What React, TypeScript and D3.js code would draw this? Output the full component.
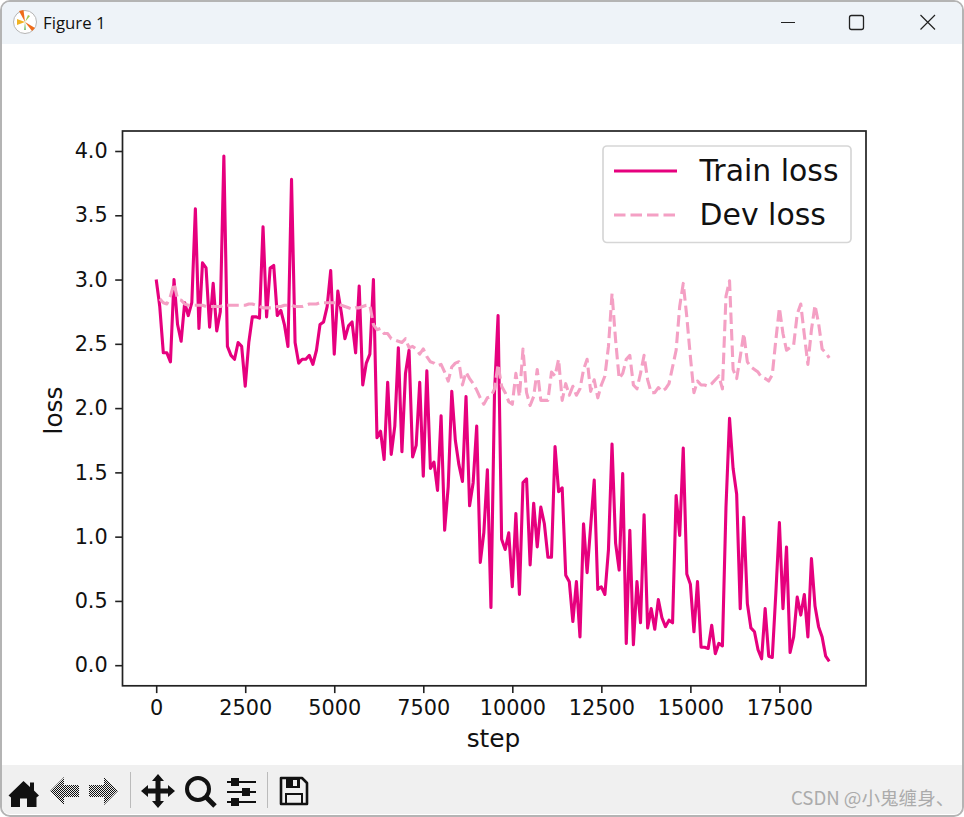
import * as d3 from 'd3';
import React, { useEffect, useRef } from 'react';

// one reading every 100 steps
const trainSteps = d3.range(0, 19000, 100);
// dev loss has no reading at step 0
const devSteps = d3.range(100, 19000, 100);

const trainLoss = [
  3.0, 2.79, 2.43, 2.43, 2.36, 3.0, 2.65, 2.52, 2.82, 2.72,
  2.82, 3.55, 2.62, 3.13, 3.09, 2.63, 2.97, 2.6, 2.75, 3.96,
  2.48, 2.41, 2.38, 2.51, 2.48, 2.17, 2.51, 2.71, 2.71, 2.7,
  3.41, 2.71, 3.09, 3.11, 2.72, 2.76, 2.65, 2.48, 3.78, 2.51,
  2.35, 2.38, 2.38, 2.41, 2.34, 2.45, 2.65, 2.67, 2.79, 3.07,
  2.42, 2.91, 2.74, 2.54, 2.64, 2.67, 2.43, 2.95, 2.18, 2.35,
  2.42, 3.0, 1.77, 1.82, 1.6, 2.2, 1.64, 1.86, 2.47, 1.66,
  2.27, 2.45, 1.62, 1.71, 2.2, 1.47, 2.29, 1.53, 1.58, 1.36,
  1.94, 1.05, 1.39, 2.13, 1.75, 1.56, 1.43, 2.09, 1.24, 1.42,
  1.86, 0.8, 1.03, 1.52, 0.45, 2.12, 2.72, 0.98, 0.9, 1.03,
  0.61, 1.18, 0.55, 1.42, 1.45, 0.78, 1.26, 0.92, 1.23, 1.1,
  0.84, 0.84, 1.7, 1.35, 1.38, 0.7, 0.65, 0.34, 0.65, 0.22,
  1.1, 0.72, 1.08, 1.44, 0.59, 0.61, 0.55, 0.9, 1.72, 0.95,
  0.74, 1.49, 0.17, 1.05, 0.16, 0.65, 0.33, 1.17, 0.29, 0.44,
  0.28, 0.51, 0.37, 0.3, 0.35, 0.33, 1.32, 1.01, 1.69, 0.71,
  0.63, 0.26, 0.65, 0.14, 0.14, 0.13, 0.31, 0.09, 0.17, 0.15,
  1.23, 1.92, 1.53, 1.33, 0.44, 1.15, 0.48, 0.29, 0.26, 0.12,
  0.05, 0.44, 0.07, 0.06, 0.56, 1.11, 0.44, 0.92, 0.1, 0.22,
  0.53, 0.39, 0.55, 0.22, 0.83, 0.46, 0.3, 0.22, 0.07, 0.03,
];

const devLoss = [
  2.85, 2.82, 2.81, 2.87, 2.97, 2.85, 2.84, 2.81, 2.8,
  2.8, 2.8, 2.8, 2.8, 2.79, 2.79, 2.79, 2.79, 2.79, 2.8,
  2.8, 2.8, 2.8, 2.8, 2.8, 2.8, 2.81, 2.81, 2.8, 2.79,
  2.78, 2.78, 2.78, 2.78, 2.79, 2.79, 2.8, 2.8, 2.8, 2.79,
  2.79, 2.79, 2.8, 2.81, 2.81, 2.81, 2.82, 2.82, 2.82, 2.82,
  2.82, 2.82, 2.8, 2.79, 2.78, 2.77, 2.78, 2.78, 2.79, 2.8,
  2.8, 2.65, 2.61, 2.62, 2.58, 2.58, 2.54, 2.53, 2.52, 2.51,
  2.54, 2.47, 2.48, 2.46, 2.42, 2.46, 2.4, 2.36, 2.35, 2.33,
  2.34, 2.28, 2.21, 2.32, 2.35, 2.36, 2.18, 2.28, 2.23, 2.19,
  2.14, 2.08, 2.03, 2.08, 2.09, 2.15, 2.34, 2.17, 2.12, 2.05,
  2.03, 2.27, 2.09, 2.46, 2.12, 2.02, 2.09, 2.3, 2.06, 2.06,
  2.06, 2.28, 2.25, 2.38, 2.06, 2.19, 2.1, 2.17, 2.1, 2.15,
  2.3, 2.38, 2.13, 2.22, 2.08, 2.18, 2.25, 2.48, 2.89, 2.53,
  2.23, 2.27, 2.38, 2.41, 2.18, 2.15, 2.27, 2.41, 2.22, 2.12,
  2.12, 2.16, 2.13, 2.15, 2.19, 2.32, 2.45, 2.79, 2.97, 2.71,
  2.4, 2.12, 2.21, 2.18, 2.18, 2.17, 2.19, 2.22, 2.25, 2.15,
  2.87, 2.99, 2.3, 2.23, 2.4, 2.58, 2.36, 2.32, 2.3, 2.28,
  2.24, 2.23, 2.21, 2.26, 2.53, 2.78, 2.58, 2.45, 2.47, 2.49,
  2.73, 2.81, 2.57, 2.34, 2.61, 2.8, 2.66, 2.46, 2.43, 2.39,
];

const xTicks = [0, 2500, 5000, 7500, 10000, 12500, 15000, 17500];
const yTicks = [0, 0.5, 1, 1.5, 2, 2.5, 3, 3.5, 4];
const legendLabels = ['Train loss', 'Dev loss'];

const TRAIN_COLOR = '#e6007e';
const DEV_COLOR = '#f4a0c4';
const FONT = '"DejaVu Sans", sans-serif';

const box = { left: 122.5, right: 866, top: 131, bottom: 685.8 };

const App: React.FC = () => {
  const svgRef = useRef<SVGSVGElement | null>(null);

  useEffect(() => {
    if (!svgRef.current) return;
    const svg = d3.select(svgRef.current).select<SVGGElement>('g.chart');
    svg.selectAll('*').remove();

    const x = d3.scaleLinear().domain([0, 17500]).range([156.2, 779.4]);
    const y = d3.scaleLinear().domain([0, 4]).range([665.2, 151]);

    const line = (stepValues: number[]) =>
      d3
        .line<number>()
        .x((_, i) => x(stepValues[i]))
        .y((d) => y(d));

    svg
      .append('path')
      .attr('d', line(trainSteps)(trainLoss))
      .attr('fill', 'none')
      .attr('stroke', TRAIN_COLOR)
      .attr('stroke-width', 3.1)
      .attr('stroke-linejoin', 'round');

    svg
      .append('path')
      .attr('d', line(devSteps)(devLoss))
      .attr('fill', 'none')
      .attr('stroke', DEV_COLOR)
      .attr('stroke-width', 3.1)
      .attr('stroke-dasharray', '11.5 5')
      .attr('stroke-linejoin', 'round');

    // X-axis
    const gx = svg
      .append('g')
      .attr('transform', `translate(0, ${box.bottom})`)
      .call(d3.axisBottom(x).tickValues(xTicks).tickFormat(d3.format('d')).tickSize(7.3).tickPadding(7));

    // Y-axis
    const gy = svg
      .append('g')
      .attr('transform', `translate(${box.left}, 0)`)
      .call(d3.axisLeft(y).tickValues(yTicks).tickFormat(d3.format('.1f')).tickSize(7.3).tickPadding(7.5));

    [gx, gy].forEach((g) => {
      g.select('.domain').remove();
      g.selectAll('line').attr('stroke', '#222').attr('stroke-width', 1.6);
      g.selectAll('text').attr('font-family', FONT).attr('font-size', 20.8).attr('fill', '#111');
    });

    // frame
    svg
      .append('rect')
      .attr('x', box.left)
      .attr('y', box.top)
      .attr('width', box.right - box.left)
      .attr('height', box.bottom - box.top)
      .attr('fill', 'none')
      .attr('stroke', '#222')
      .attr('stroke-width', 1.7);

    svg
      .append('text')
      .attr('x', 493.5)
      .attr('y', 747)
      .attr('text-anchor', 'middle')
      .attr('font-family', FONT)
      .attr('font-size', 24.8)
      .attr('fill', '#111')
      .text('step');

    svg
      .append('text')
      .attr('transform', 'translate(62, 410.5) rotate(-90)')
      .attr('text-anchor', 'middle')
      .attr('font-family', FONT)
      .attr('font-size', 24.8)
      .attr('fill', '#111')
      .text('loss');

    // legend
    const legend = svg.append('g');
    legend
      .append('rect')
      .attr('x', 603)
      .attr('y', 146)
      .attr('width', 248)
      .attr('height', 96.5)
      .attr('rx', 4)
      .attr('fill', 'white')
      .attr('fill-opacity', 0.8)
      .attr('stroke', '#d6d6d6')
      .attr('stroke-width', 1.7);

    legendLabels.forEach((label, i) => {
      const rowY = 171 + i * 44;
      legend
        .append('line')
        .attr('x1', 614)
        .attr('x2', 677)
        .attr('y1', rowY)
        .attr('y2', rowY)
        .attr('stroke', i === 0 ? TRAIN_COLOR : DEV_COLOR)
        .attr('stroke-width', 3.1)
        .attr('stroke-dasharray', i === 0 ? null : '11.5 5');
      legend
        .append('text')
        .attr('x', 699.5)
        .attr('y', rowY + 9.8)
        .attr('font-family', FONT)
        .attr('font-size', 29.9)
        .attr('fill', '#111')
        .text(label);
    });
  }, []);

  return (
    <svg
      ref={svgRef}
      width={964}
      height={817}
      viewBox="0 0 964 817"
      style={{ position: 'fixed', left: 0, top: 0, display: 'block', background: '#fff' }}
    >
      <defs>
        <pattern id="stipple" width={2} height={2} patternUnits="userSpaceOnUse">
          <rect width={2} height={2} fill="#eee" />
          <rect width={1} height={1} fill="#111" />
          <rect x={1} y={1} width={1} height={1} fill="#111" />
        </pattern>
      </defs>

      {/* window frame */}
      <rect x={1} y={1} width={962} height={815} rx={9} fill="#fff" stroke="#b4b4b4" strokeWidth={2} />
      <path d="M2 44V10a8 8 0 0 1 8-8H954a8 8 0 0 1 8 8V44Z" fill="#eef3f8" />
      <path d="M2 765H962V806a8 8 0 0 1-8 8H10a8 8 0 0 1-8-8Z" fill="#f0f0f0" />

      {/* title bar */}
      <circle cx={25} cy={22} r={11.5} fill="#fff" stroke="#b5b5b5" strokeWidth={1} />
      <path d="M25 22L19 11L23.5 10Z" fill="#ef6c1a" />
      <path d="M25 22L32 31L35 28Z" fill="#ef6c1a" />
      <path d="M25 22L17 19L17 25Z" fill="#f0b323" />
      <path d="M25 22L28 15L30 16Z" fill="#a5c84b" />
      <path d="M25 22L24 30L26 30Z" fill="#7fc47a" />
      <text x={43} y={29} fontFamily='"Open Sans", sans-serif' fontSize={16.8} fill="#111">Figure 1</text>
      <line x1={781} x2={795} y1={22.5} y2={22.5} stroke="#222" strokeWidth={1} />
      <rect x={849.5} y={15.5} width={14} height={14} rx={2} fill="none" stroke="#222" strokeWidth={1.3} />
      <path d="M920.5 15L935 29.5M935 15L920.5 29.5" stroke="#222" strokeWidth={1.2} fill="none" />

      {/* toolbar */}
      <path d="M23.5 781L30 787V782.5H34V790.5L39 795.5L36.5 797.5V807H27V798.5H20V807H11V797.5L8.5 795.5Z" fill="#111" />
      <path d="M64 777L50 791L64 805V797H79V785H64Z" fill="url(#stipple)" />
      <path d="M104 777L118 791L104 805V797H89V785H104Z" fill="url(#stipple)" />
      <line x1={130.5} x2={130.5} y1={772} y2={808} stroke="#bbb" strokeWidth={1} />
      <path d="M158 774L164 781H160.5V788.5H168V785L175 791L168 797V793.5H160.5V801H164L158 808L152 801H155.5V793.5H148V797L141 791L148 785V788.5H155.5V781H152Z" fill="#111" />
      <circle cx={198} cy={789} r={11} fill="none" stroke="#111" strokeWidth={4} />
      <line x1={206} x2={215} y1={797} y2={806} stroke="#111" strokeWidth={5} />
      <g stroke="#111" strokeWidth={2} fill="#111">
        <line x1={227} x2={256} y1={782} y2={782} />
        <line x1={227} x2={256} y1={792} y2={792} />
        <line x1={227} x2={256} y1={802} y2={802} />
        <rect x={232} y={779} width={6} height={6} />
        <rect x={243} y={789} width={6} height={6} />
        <rect x={232} y={799} width={6} height={6} />
      </g>
      <line x1={267.5} x2={267.5} y1={772} y2={808} stroke="#bbb" strokeWidth={1} />
      <path d="M281 778H302L307 783V804H281Z" fill="none" stroke="#111" strokeWidth={2.6} strokeLinejoin="round" />
      <path d="M286 778H300V788H286Z" fill="#111" />
      <rect x={293} y={780} width={4} height={6} fill="#f0f0f0" />
      <rect x={286} y={794} width={16} height={10} fill="none" stroke="#111" strokeWidth={2} />

      <text x={791} y={805} fontFamily='"Noto Sans CJK SC", sans-serif' fontSize={18.6} fill="#ababab">CSDN @小鬼缠身、</text>

      <g className="chart" />
    </svg>
  );
};

export default App;
